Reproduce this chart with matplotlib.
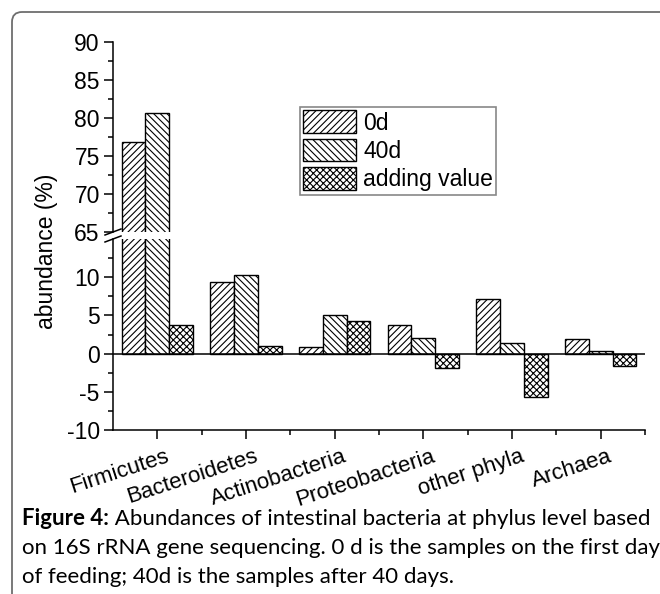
import matplotlib
matplotlib.use('Agg')
import matplotlib.pyplot as plt
import numpy as np
from matplotlib.patches import FancyBboxPatch
from matplotlib.lines import Line2D
from matplotlib.transforms import IdentityTransform, ScaledTranslation
from matplotlib.ticker import FixedLocator

# Data
phyla = ['Firmicutes', 'Bacteroidetes', 'Actinobacteria', 'Proteobacteria', 'other phyla', 'Archaea']
day0 = [76.8, 9.4, 0.8, 3.8, 7.2, 1.9]
day40 = [80.7, 10.3, 5.1, 2.0, 1.4, 0.35]
adding = [3.8, 0.95, 4.3, -1.9, -5.7, -1.6]
series_names = ['0d', '40d', 'adding value']

matplotlib.rcParams['font.family'] = 'Liberation Sans'
matplotlib.rcParams['hatch.linewidth'] = 0.8
matplotlib.rcParams['axes.unicode_minus'] = False

W, H = 660, 594
fig = plt.figure(figsize=(6.6, 5.94), dpi=100)

def fx(px):
    return px / W

def fy(py):
    return 1 - py / H

ax_top = fig.add_axes([fx(113), fy(232), fx(645) - fx(113), fy(42) - fy(232)])
ax_bot = fig.add_axes([fx(113), fy(430), fx(645) - fx(113), fy(239) - fy(430)])

x = np.arange(len(phyla))
width = 0.267
hatches = ['/////', '\\\\\\\\\\', 'xxxxx']
for ax in (ax_top, ax_bot):
    for k, (vals, hatch, name) in enumerate(zip([day0, day40, adding], hatches, series_names)):
        ax.bar(x + (k - 1) * width, vals, width, color='white', edgecolor='black',
               hatch=hatch, linewidth=1.0, label=name, zorder=2)
    ax.set_xlim(-0.5, 5.5)
    for s in ('top', 'right'):
        ax.spines[s].set_visible(False)
    ax.spines['left'].set_linewidth(1.1)
    ax.spines['bottom'].set_linewidth(1.1)
    ax.tick_params(axis='both', which='major', direction='out', length=6.5, width=1.1,
                   labelsize=16.5, pad=3)
    ax.tick_params(axis='both', which='minor', direction='out', length=3.5, width=1.1)

# upper part
ax_top.set_ylim(65, 90)
ax_top.set_yticks(np.arange(65, 91, 5))
ax_top.yaxis.set_minor_locator(FixedLocator(np.arange(67.5, 90, 5)))
ax_top.spines['bottom'].set_visible(False)
ax_top.set_xticks([])

# lower part
ax_bot.set_ylim(-10, 15)
ax_bot.set_yticks(np.arange(-10, 11, 5))
ax_bot.yaxis.set_minor_locator(FixedLocator(np.arange(-7.5, 13, 5)))
ax_bot.axhline(0, color='black', lw=1.1, zorder=3)
ax_bot.set_xticks(x)
ax_bot.xaxis.set_minor_locator(FixedLocator(np.arange(0.5, 6, 1)))
ax_bot.tick_params(axis='x', which='major', pad=5)
ax_bot.set_xticklabels(phyla, rotation=18, ha='right', va='top', rotation_mode='anchor', fontsize=16)
for lbl in ax_bot.get_xticklabels():
    lbl.set_transform(lbl.get_transform() + ScaledTranslation(8 / 100, 0, fig.dpi_scale_trans))

# axis break marks
for py in (232, 239):
    fig.add_artist(Line2D([105, 121], [H - py - 3, H - py + 3], color='black', lw=1.1,
                          transform=IdentityTransform()))

fig.text(fx(47), fy(251), 'abundance (%)', rotation=90, ha='center', va='center', fontsize=16.5)

leg = ax_top.legend(loc='upper left', bbox_to_anchor=(fx(300), fy(107)), bbox_transform=fig.transFigure,
                    fontsize=16.5, frameon=True, fancybox=False, edgecolor='#888888', framealpha=1,
                    handlelength=2.3, handleheight=1.15, labelspacing=0.18, handletextpad=0.3,
                    borderpad=0.15, borderaxespad=0)
leg.get_frame().set_linewidth(1.2)

# rounded border of the figure panel
fig.add_artist(FancyBboxPatch((12, -100), 900, H - 12 + 100, boxstyle='round,pad=0,rounding_size=10',
                              facecolor='none', edgecolor='#6e6e6e', lw=1.3, transform=IdentityTransform()))

# caption
cap_fs = 16
t1 = fig.text(fx(22), fy(525), 'Figure 4:', fontweight='bold', fontsize=cap_fs, family='Lato', va='baseline')
ax_bot.annotate(' Abundances of intestinal bacteria at phylus level based', xy=(1, 0), xycoords=t1,
                ha='left', va='bottom', fontsize=cap_fs, family='Lato', annotation_clip=False)
fig.text(fx(22), fy(554), 'on 16S rRNA gene sequencing. 0 d is the samples on the first day',
         fontsize=cap_fs, family='Lato', va='baseline')
fig.text(fx(22), fy(583), 'of feeding; 40d is the samples after 40 days.',
         fontsize=cap_fs, family='Lato', va='baseline')

fig.savefig('out.png', dpi=100)
